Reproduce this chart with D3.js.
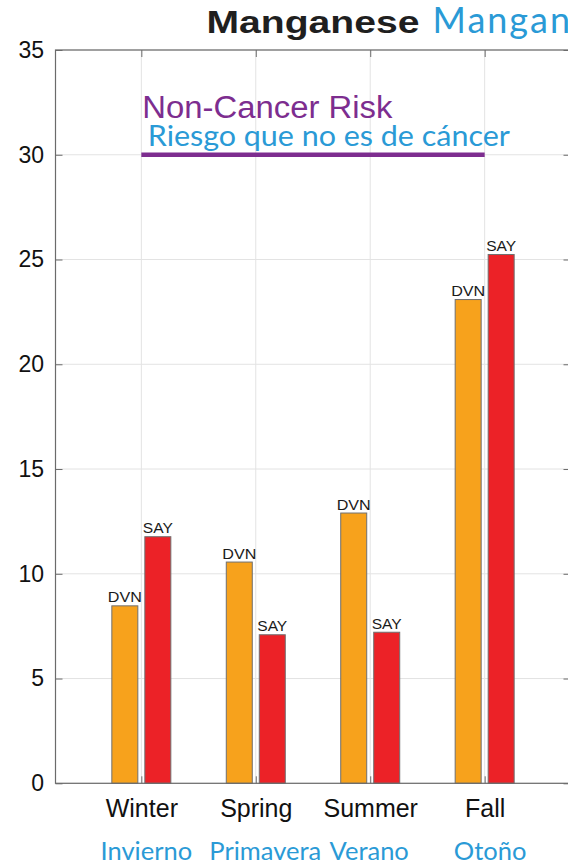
<!DOCTYPE html>
<html>
<head>
<meta charset="utf-8">
<script src="https://cdn.jsdelivr.net/npm/d3@7"></script>
<style>
  html, body { margin: 0; padding: 0; background: #fff; overflow: hidden; }
  svg { display: block; }
</style>
</head>
<body>
<svg id="chart" width="568" height="865"></svg>
<script>
// ---- data ----
const categories = ["Winter", "Spring", "Summer", "Fall"];
const categoriesEs = ["Invierno", "Primavera", "Verano", "Otoño"];
const seriesNames = ["DVN", "SAY"];
const dvnValues = [8.47, 10.56, 12.9, 23.09];
const sayValues = [11.77, 7.09, 7.21, 25.24];
const yTicks = [0, 5, 10, 15, 20, 25, 30, 35];
const riskLevel = 30;
const titleEn = "Manganese";
const titleEs = "Manganeso";
const riskEn = "Non-Cancer Risk";
const riskEs = "Riesgo que no es de cáncer";

// ---- layout ----
const svg = d3.select("#chart");
const pLeft = 55.5, pRight = 570.5, pTop = 50, pBottom = 783.3;
const x = d3.scaleLinear().domain([0.25, 4.75]).range([pLeft, pRight]);
const y = d3.scaleLinear().domain([0, 35]).range([pBottom, pTop]);
const colors = ["#F7A21C", "#EC2227"];
const barW = 26, barOff = 16.5;
const esOffsets = [5, 9.5, -1, 5.5];
const en = "'Liberation Sans', Arial, Helvetica, sans-serif";
const lato = "Lato, sans-serif";
const blue = "#2A9AD6";
const purple = "#7D2D8F";
const axisCol = "#6b6b6b";

// grid
const catIdx = categories.map((d, i) => i + 1);
svg.append("g").selectAll("line").data(yTicks).join("line")
  .attr("x1", pLeft).attr("x2", pRight)
  .attr("y1", d => y(d)).attr("y2", d => y(d))
  .attr("stroke", "#e3e3e3").attr("stroke-width", 1);
svg.append("g").selectAll("line").data(catIdx).join("line")
  .attr("x1", d => x(d)).attr("x2", d => x(d))
  .attr("y1", pTop).attr("y2", pBottom)
  .attr("stroke", "#e3e3e3").attr("stroke-width", 1);

// bars
const seriesData = [dvnValues, sayValues];
seriesData.forEach((vals, s) => {
  const g = svg.append("g");
  const cx = (i) => x(i + 1) + (s === 0 ? -barOff : barOff);
  g.selectAll("rect").data(vals).join("rect")
    .attr("x", (d, i) => cx(i) - barW / 2)
    .attr("y", d => y(d))
    .attr("width", barW)
    .attr("height", d => y(0) - y(d))
    .attr("fill", colors[s])
    .attr("stroke", "#707070").attr("stroke-width", 1);
  g.selectAll("text").data(vals).join("text")
    .attr("x", (d, i) => cx(i))
    .attr("y", d => y(d) - 3.5)
    .attr("text-anchor", "middle")
    .attr("font-family", en).attr("font-size", 15.5)
    .attr("textLength", s === 0 ? 34 : 30).attr("lengthAdjust", "spacingAndGlyphs")
    .attr("fill", "#1a1a1a")
    .text(seriesNames[s]);
});

// axes box
svg.append("rect").attr("x", pLeft).attr("y", pTop)
  .attr("width", pRight - pLeft).attr("height", pBottom - pTop)
  .attr("fill", "none").attr("stroke", axisCol).attr("stroke-width", 1.2);

// y axis (ticks inward)
const yAxis = d3.axisLeft(y).tickValues(yTicks).tickSize(-7).tickPadding(12);
const yg = svg.append("g").attr("transform", `translate(${pLeft},0)`).call(yAxis);
yg.select(".domain").remove();
yg.selectAll(".tick line").attr("stroke", axisCol);
yg.selectAll(".tick text").attr("font-family", en).attr("font-size", 23)
  .attr("fill", "#111").attr("x", -11.5);
const yAxisR = d3.axisRight(y).tickValues(yTicks).tickSize(-7).tickFormat("");
const ygr = svg.append("g").attr("transform", `translate(${pRight},0)`).call(yAxisR);
ygr.select(".domain").remove();
ygr.selectAll(".tick line").attr("stroke", axisCol);

// x axis ticks (inward, bottom and top)
const xAxisB = d3.axisBottom(x).tickValues(catIdx).tickSize(-7).tickFormat((d) => categories[d - 1]);
const xg = svg.append("g").attr("transform", `translate(0,${pBottom})`).call(xAxisB);
xg.select(".domain").remove();
xg.selectAll(".tick line").attr("stroke", axisCol);
xg.selectAll(".tick text").attr("font-family", en).attr("font-size", 25)
  .attr("fill", "#111").attr("dy", "0").attr("y", 34);
const xAxisT = d3.axisTop(x).tickValues(catIdx).tickSize(-7).tickFormat("");
const xgt = svg.append("g").attr("transform", `translate(0,${pTop})`).call(xAxisT);
xgt.select(".domain").remove();
xgt.selectAll(".tick line").attr("stroke", axisCol);

// Spanish category labels
svg.append("g").selectAll("text").data(categoriesEs).join("text")
  .attr("x", (d, i) => x(i + 1) + esOffsets[i])
  .attr("y", 860)
  .attr("text-anchor", "middle")
  .attr("font-family", lato).attr("font-size", 25.5)
  .attr("fill", blue)
  .text(d => d);

// risk line
svg.append("line")
  .attr("x1", x(1)).attr("x2", x(4))
  .attr("y1", y(riskLevel)).attr("y2", y(riskLevel))
  .attr("stroke", purple).attr("stroke-width", 4.5);
svg.append("text")
  .attr("x", x(1) + 1).attr("y", 117.5)
  .attr("font-family", en).attr("font-size", 31)
  .attr("textLength", 250).attr("lengthAdjust", "spacingAndGlyphs")
  .attr("fill", purple).text(riskEn);
svg.append("text")
  .attr("x", x(1) + 6.5).attr("y", 145.5)
  .attr("font-family", lato).attr("font-size", 28)
  .attr("textLength", 362).attr("lengthAdjust", "spacingAndGlyphs")
  .attr("fill", blue).text(riskEs);

// title
svg.append("text")
  .attr("x", 206.5).attr("y", 32.5)
  .attr("font-family", en).attr("font-weight", "bold").attr("font-size", 31)
  .attr("textLength", 213).attr("lengthAdjust", "spacingAndGlyphs")
  .attr("fill", "#1f1f1f").text(titleEn);
svg.append("text")
  .attr("x", 432.5).attr("y", 32.5)
  .attr("font-family", lato).attr("font-size", 36)
  .attr("letter-spacing", 2)
  .attr("fill", blue).text(titleEs);
</script>
</body>
</html>
